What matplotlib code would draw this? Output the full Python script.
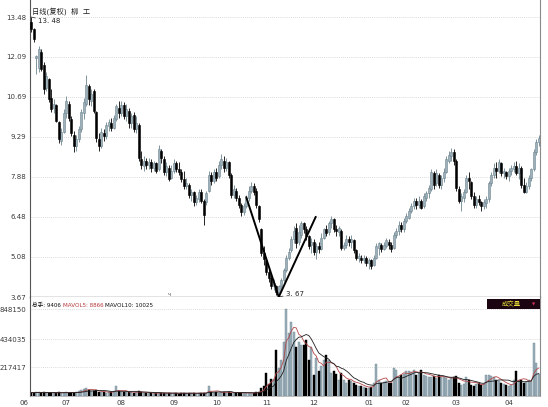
import matplotlib
matplotlib.use("Agg")
import matplotlib.pyplot as plt
import matplotlib.ticker as ticker
import matplotlib.transforms as mtransforms
from matplotlib.patches import Rectangle
import numpy as np
import pandas as pd

plt.rcParams['font.family'] = ['DejaVu Sans', 'Noto Sans CJK SC']

# daily candles, June -> April (forward-adjusted)
open_ = [
    13.30, 13.05, 12.05, 11.70, 12.25, 11.80, 11.00, 11.30, 10.65, 10.30,
    10.40, 9.80, 9.15, 9.45, 10.10, 10.45, 9.90, 9.35, 8.95, 9.20,
    9.55, 10.10, 10.45, 11.05, 10.55, 10.90, 10.15, 9.20, 8.95, 9.40,
    9.30, 9.65, 9.75, 9.60, 9.90, 10.30, 10.10, 10.40, 10.00, 10.20,
    9.75, 10.05, 9.55, 9.70, 8.50, 8.25, 8.45, 8.30, 8.40, 8.20,
    8.35, 8.15, 8.80, 8.50, 8.05, 8.20, 7.85, 8.10, 8.35, 8.15,
    8.05, 7.80, 7.55, 7.60, 7.25, 7.35, 7.00, 7.10, 7.35, 7.05,
    7.00, 7.40, 7.95, 7.75, 8.05, 7.90, 8.30, 8.45, 8.20, 8.40,
    7.95, 7.25, 7.40, 7.15, 6.90, 6.65, 6.85, 7.15, 7.40, 7.55,
    7.40, 6.85, 6.05, 5.20, 4.95, 4.55, 4.35, 4.05, 4.05, 3.85,
    4.05, 4.25, 4.60, 5.05, 5.30, 5.70, 6.10, 5.60, 5.85, 6.25,
    6.05, 5.80, 5.50, 5.60, 5.25, 5.45, 5.35, 5.75, 6.05, 5.95,
    6.25, 6.40, 6.05, 5.95, 6.00, 5.40, 5.50, 5.70, 5.60, 5.65,
    5.30, 5.05, 5.05, 4.95, 5.05, 4.85, 4.95, 4.80, 5.05, 5.40,
    5.50, 5.35, 5.45, 5.60, 5.50, 5.40, 5.85, 6.00, 6.20, 6.05,
    6.35, 6.45, 6.70, 6.85, 7.05, 6.90, 7.05, 6.85, 7.15, 7.30,
    7.45, 8.00, 7.65, 7.95, 7.60, 7.85, 8.05, 8.45, 8.60, 8.75,
    8.45, 7.45, 7.05, 7.15, 7.35, 7.85, 7.70, 7.20, 6.90, 7.10,
    7.00, 6.85, 6.95, 7.10, 7.65, 7.95, 8.20, 8.10, 8.35, 8.00,
    8.05, 7.90, 8.10, 8.15, 8.25, 8.00, 8.20, 7.60, 7.35, 7.55,
    7.85, 8.15, 8.75, 9.10,
]
close = [
    13.05, 12.70, 12.10, 12.35, 11.65, 10.95, 11.40, 10.60, 10.25, 10.45,
    9.85, 9.20, 9.45, 10.10, 10.55, 9.95, 9.40, 8.95, 9.20, 9.55,
    10.15, 10.50, 11.10, 10.60, 10.80, 10.20, 9.25, 8.95, 9.45, 9.30,
    9.70, 9.80, 9.60, 9.95, 10.35, 10.10, 10.40, 10.00, 10.25, 9.75,
    10.00, 9.55, 9.75, 8.55, 8.30, 8.45, 8.30, 8.40, 8.20, 8.35,
    8.10, 8.85, 8.55, 8.05, 8.25, 7.80, 8.10, 8.35, 8.15, 8.05,
    7.80, 7.55, 7.65, 7.25, 7.35, 7.00, 7.15, 7.35, 7.05, 6.55,
    7.30, 7.95, 7.75, 8.05, 7.85, 8.30, 8.50, 8.20, 8.40, 7.95,
    7.25, 7.45, 7.15, 6.90, 6.65, 6.85, 7.15, 7.40, 7.55, 7.35,
    6.90, 6.40, 5.20, 5.00, 4.55, 4.35, 4.05, 4.15, 3.85, 4.05,
    4.25, 4.60, 5.05, 5.25, 5.70, 6.00, 5.55, 5.95, 6.25, 6.05,
    5.80, 5.45, 5.60, 5.25, 5.45, 5.35, 5.75, 6.05, 5.90, 6.25,
    6.40, 6.05, 6.00, 6.10, 5.40, 5.50, 5.70, 5.60, 5.70, 5.30,
    5.05, 5.10, 4.95, 5.05, 4.85, 4.95, 4.75, 5.05, 5.45, 5.55,
    5.35, 5.50, 5.65, 5.50, 5.35, 5.85, 6.00, 6.20, 6.05, 6.35,
    6.50, 6.70, 6.85, 7.05, 6.90, 7.05, 6.80, 7.20, 7.30, 7.50,
    8.05, 7.60, 8.00, 7.60, 7.85, 8.05, 8.50, 8.65, 8.75, 8.45,
    7.50, 7.05, 7.20, 7.35, 7.85, 7.75, 7.20, 6.90, 7.10, 7.00,
    6.85, 7.00, 7.10, 7.65, 7.95, 8.20, 8.10, 8.40, 8.00, 8.10,
    7.90, 8.10, 8.20, 8.25, 8.00, 8.20, 7.60, 7.35, 7.55, 7.85,
    8.15, 8.75, 9.10, 9.25,
]
high = [
    13.48, 13.10, 12.15, 12.45, 12.35, 11.90, 11.55, 11.35, 10.95, 10.60,
    10.45, 9.85, 9.60, 10.25, 10.70, 10.55, 10.00, 9.50, 9.35, 9.65,
    10.25, 10.65, 11.45, 11.15, 10.95, 10.95, 10.20, 9.40, 9.60, 9.55,
    9.80, 9.90, 9.95, 10.05, 10.45, 10.55, 10.55, 10.50, 10.45, 10.30,
    10.10, 10.15, 10.00, 9.75, 8.80, 8.60, 8.55, 8.55, 8.50, 8.45,
    8.40, 9.00, 8.85, 8.60, 8.40, 8.30, 8.30, 8.50, 8.45, 8.40,
    8.15, 8.10, 7.85, 7.65, 7.45, 7.40, 7.25, 7.45, 7.45, 7.10,
    7.40, 8.10, 8.05, 8.15, 8.20, 8.45, 8.68, 8.60, 8.55, 8.45,
    8.00, 7.60, 7.50, 7.25, 6.95, 6.95, 7.25, 7.55, 7.70, 7.65,
    7.50, 6.90, 6.10, 5.45, 5.00, 4.65, 4.40, 4.30, 4.10, 4.10,
    4.35, 4.70, 5.15, 5.40, 5.80, 6.15, 6.25, 6.20, 6.35, 6.30,
    6.15, 5.85, 5.75, 5.70, 5.55, 5.60, 5.90, 6.10, 6.20, 6.35,
    6.50, 6.45, 6.20, 6.15, 6.05, 5.60, 5.85, 5.80, 5.85, 5.70,
    5.35, 5.20, 5.15, 5.15, 5.10, 5.05, 5.00, 5.15, 5.55, 5.60,
    5.55, 5.60, 5.75, 5.70, 5.60, 5.95, 6.10, 6.35, 6.30, 6.45,
    6.60, 6.80, 6.95, 7.15, 7.15, 7.20, 7.10, 7.30, 7.40, 7.60,
    8.15, 8.10, 8.15, 8.00, 7.95, 8.20, 8.60, 8.80, 8.90, 8.85,
    8.50, 7.55, 7.30, 7.45, 7.95, 8.05, 7.75, 7.35, 7.20, 7.25,
    7.05, 7.10, 7.20, 7.75, 8.05, 8.35, 8.40, 8.50, 8.40, 8.20,
    8.10, 8.20, 8.30, 8.40, 8.45, 8.35, 8.25, 7.85, 7.70, 7.95,
    8.20, 8.85, 9.20, 9.35,
]
low = [
    12.95, 12.60, 11.50, 11.55, 11.60, 10.80, 10.90, 10.50, 10.15, 10.10,
    9.80, 9.05, 9.00, 9.40, 9.95, 9.85, 9.30, 8.75, 8.80, 9.10,
    9.45, 9.90, 10.35, 10.40, 10.35, 10.10, 9.10, 8.80, 8.90, 9.15,
    9.20, 9.50, 9.50, 9.55, 9.85, 9.95, 10.00, 9.90, 9.85, 9.60,
    9.60, 9.45, 9.40, 8.45, 8.15, 8.10, 8.15, 8.15, 8.05, 8.10,
    8.00, 8.10, 8.35, 7.95, 7.90, 7.75, 7.80, 8.00, 8.05, 7.95,
    7.70, 7.45, 7.45, 7.15, 7.05, 6.85, 6.90, 7.00, 6.95, 6.20,
    6.90, 7.35, 7.60, 7.65, 7.75, 7.85, 8.15, 8.05, 8.10, 7.85,
    7.15, 7.15, 7.05, 6.80, 6.50, 6.55, 6.80, 7.05, 7.30, 7.25,
    6.80, 6.30, 5.10, 4.80, 4.45, 4.20, 3.95, 3.90, 3.75, 3.67,
    3.90, 4.20, 4.55, 4.95, 5.25, 5.55, 5.40, 5.50, 5.75, 5.90,
    5.65, 5.35, 5.20, 5.15, 5.00, 5.20, 5.30, 5.70, 5.80, 5.85,
    6.10, 5.95, 5.80, 5.80, 5.30, 5.30, 5.40, 5.45, 5.40, 5.20,
    4.95, 4.90, 4.85, 4.85, 4.75, 4.65, 4.65, 4.75, 5.00, 5.15,
    5.25, 5.30, 5.40, 5.35, 5.25, 5.35, 5.75, 5.85, 5.95, 5.95,
    6.25, 6.40, 6.60, 6.75, 6.75, 6.80, 6.75, 6.80, 7.05, 7.15,
    7.40, 7.45, 7.55, 7.50, 7.45, 7.70, 8.00, 8.35, 8.45, 8.30,
    7.40, 6.95, 6.70, 7.00, 7.30, 7.45, 7.10, 6.80, 6.80, 6.90,
    6.70, 6.75, 6.80, 7.00, 7.55, 7.85, 7.85, 8.00, 7.90, 7.85,
    7.80, 7.75, 7.95, 8.05, 7.95, 7.80, 7.50, 7.30, 7.30, 7.45,
    7.75, 8.10, 8.65, 8.95,
]
volume = [
    26000, 24000, 30000, 28000, 25000, 27000, 22000, 26000, 24000, 23000,
    25000, 28000, 22000, 26000, 30000, 24000, 25000, 22000, 27000, 35000,
    45000, 52000, 60000, 48000, 40000, 36000, 42000, 30000, 28000, 32000,
    26000, 30000, 28000, 36000, 75000, 34000, 30000, 28000, 32000, 27000,
    30000, 26000, 28000, 38000, 30000, 26000, 22000, 20000, 24000, 21000,
    19000, 26000, 22000, 20000, 23000, 19000, 21000, 24000, 20000, 18000,
    22000, 21000, 19000, 23000, 20000, 22000, 18000, 21000, 24000, 20000,
    26000, 78000, 30000, 26000, 28000, 24000, 32000, 28000, 26000, 30000,
    25000, 24000, 22000, 26000, 23000, 21000, 24000, 22000, 25000, 23000,
    27000, 30000, 60000, 75000, 172500, 90000, 127500, 127500, 348900, 210000,
    271600, 410800, 848150, 516900, 668700, 530700, 372100, 410800, 387600, 387600,
    426300, 271600, 372100, 157500, 287000, 187500, 225000, 271600, 310200, 271600,
    172500, 187500, 165000, 120000, 172500, 120000, 97500, 120000, 112500, 100000,
    82500, 75000, 75000, 70000, 60000, 60000, 65000, 97500, 240600, 120000,
    97500, 105000, 112500, 100000, 97500, 210000, 195000, 142500, 157500, 165000,
    187500, 187500, 180000, 195000, 157500, 170000, 195000, 157500, 150000, 142500,
    142500, 150000, 135000, 157500, 142500, 142500, 135000, 120000, 135000, 142500,
    150000, 97500, 82500, 90000, 142500, 120000, 82500, 75000, 90000, 97500,
    82500, 90000, 157500, 157500, 150000, 142500, 120000, 112500, 97500, 90000,
    82500, 75000, 80000, 120000, 187500, 120000, 120000, 97500, 105000, 120000,
    112500, 403100, 248400, 165000,
]

price_ticks = [3.67, 5.08, 6.48, 7.88, 9.29, 10.69, 12.09, 13.48]
vol_ticks = [217417, 434035, 848150]
month_labels = ["06", "07", "08", "09", "10", "11", "12", "01", "02", "03", "04"]
month_pos = [-3, 14, 36, 57, 74, 94, 113, 135, 150, 170, 191]
trend_lines = [((86, 7.17), (99, 3.67)), ((99, 3.67), (113.8, 6.48))]

UP_FACE = "#9db1bb"
UP_EDGE = "#6c8490"
DOWN = "#000000"
LABEL_C = "#3a3a3a"
GRID_C = "#cfcfcf"

o = np.array(open_)
c = np.array(close)
h = np.array(high)
l = np.array(low)
v = np.array(volume)
x = np.arange(len(c))
up = c >= o

fig = plt.figure(figsize=(5.48, 4.07), dpi=100)
W, H = 548.0, 407.0
ax = fig.add_axes([30 / W, (H - 297) / H, 510 / W, 297 / H])
axv = fig.add_axes([30 / W, (H - 396) / H, 510 / W, 99 / H], sharex=ax)

#######################################################
# Price panel
#######################################################
ax.vlines(x[up], l[up], h[up], color=UP_EDGE, linewidth=0.6, zorder=2)
ax.vlines(x[~up], l[~up], h[~up], color=DOWN, linewidth=0.6, zorder=2)
body = np.maximum(np.abs(c - o), 0.02)
ax.bar(x[up], body[up], bottom=np.minimum(o, c)[up], width=0.7,
       color=UP_FACE, edgecolor=UP_EDGE, linewidth=0.4, zorder=3)
ax.bar(x[~up], body[~up], bottom=np.minimum(o, c)[~up], width=0.7,
       color=DOWN, edgecolor=DOWN, linewidth=0.4, zorder=3)

for (x0, y0), (x1, y1) in trend_lines:
    ax.plot([x0, x1], [y0, y1], color="black", linewidth=1.4,
            solid_capstyle="round", zorder=5)

ax.set_xlim(-0.5, len(c) - 0.5)
ax.set_ylim(3.67, 3.67 + 297 * 0.03504)
ax.yaxis.set_major_locator(ticker.FixedLocator(price_ticks))
ax.yaxis.set_major_formatter(ticker.FormatStrFormatter("%.2f"))
ax.tick_params(axis="y", length=0, pad=2.5, labelsize=5, labelcolor=LABEL_C)
ax.tick_params(axis="x", length=0, labelbottom=False)
ax.grid(axis="y", color=GRID_C, linestyle=(0, (1, 1.5)), linewidth=0.6)
ax.set_axisbelow(True)
ax.spines["top"].set_visible(False)
ax.spines["left"].set_color("#555555")
ax.spines["left"].set_linewidth(0.8)
ax.spines["right"].set_color("#8a8a8a")
ax.spines["right"].set_linewidth(0.8)
ax.spines["bottom"].set_color("#222222")
ax.spines["bottom"].set_linewidth(0.9)

ax.text(0.004, 0.962, "日线(复权)  柳  工", transform=ax.transAxes,
        fontsize=5.2, color="#222222", va="center", ha="left")

imax = int(np.argmax(h))
ax.annotate(f"{h[imax]:.2f}".replace(".", ". "), xy=(x[imax], h[imax]),
            xytext=(5, -3), textcoords="offset points", fontsize=5,
            color="#222222", va="center", ha="left",
            arrowprops=dict(arrowstyle="-", color="#222222", lw=0.5,
                            shrinkA=0, shrinkB=0))
imin = int(np.argmin(l))
ax.annotate(f"{l[imin]:.2f}".replace(".", ". "), xy=(x[imin], l[imin]),
            xytext=(5, 2.5), textcoords="offset points", fontsize=5,
            color="#222222", va="center", ha="left",
            arrowprops=dict(arrowstyle="-", color="#222222", lw=0.5,
                            shrinkA=0, shrinkB=0))
ax.text(55, 3.67, "ч", fontsize=3.5, color="#444444", ha="center",
        va="bottom")

#######################################################
# Volume panel
#######################################################
vol_anchor_v = [0, 217417, 434035, 848150, 1013800]
vol_anchor_px = [0, 29, 57, 87, 99]


def vol_fwd(val):
    return np.interp(val, vol_anchor_v, vol_anchor_px)


def vol_inv(px):
    return np.interp(px, vol_anchor_px, vol_anchor_v)


axv.set_yscale("function", functions=(vol_fwd, vol_inv))
axv.bar(x[up], v[up], width=0.72, color=UP_FACE, edgecolor=UP_EDGE,
        linewidth=0.3, zorder=2)
axv.bar(x[~up], v[~up], width=0.72, color=DOWN, edgecolor=DOWN,
        linewidth=0.3, zorder=2)
ma5 = pd.Series(v).rolling(5, min_periods=1).mean()
ma10 = pd.Series(v).rolling(10, min_periods=1).mean()
axv.plot(x, ma5, color="#b5474a", linewidth=0.6, zorder=4)
axv.plot(x, ma10, color="#1e1e1e", linewidth=0.6, zorder=4)

axv.set_ylim(0, 1013800)
axv.yaxis.set_major_locator(ticker.FixedLocator(vol_ticks))
axv.yaxis.set_major_formatter(ticker.FormatStrFormatter("%d"))
axv.yaxis.set_minor_locator(ticker.NullLocator())
axv.tick_params(axis="y", length=0, pad=2.5, labelsize=5, labelcolor=LABEL_C)
axv.tick_params(axis="x", length=0, labelbottom=False)
axv.grid(axis="y", color=GRID_C, linestyle=(0, (1, 1.5)), linewidth=0.6)
axv.set_axisbelow(True)
axv.spines["top"].set_visible(False)
axv.spines["left"].set_color("#555555")
axv.spines["left"].set_linewidth(0.8)
axv.spines["right"].set_color("#8a8a8a")
axv.spines["right"].set_linewidth(0.8)
axv.spines["bottom"].set_color("#b0b0b0")
axv.spines["bottom"].set_linewidth(0.6)

trans = mtransforms.blended_transform_factory(axv.transData, axv.transAxes)
for pos, lab in zip(month_pos, month_labels):
    axv.text(pos, -0.075, lab, transform=trans, fontsize=5, color=LABEL_C,
             ha="center", va="center", clip_on=False)

t1 = axv.text(0.004, 0.915, "总手: 9406 ", transform=axv.transAxes,
              fontsize=4.1, color="#111111", va="center", ha="left")
t2 = axv.annotate("MAVOL5: 8866 ", xy=(1, 0.5), xycoords=t1,
                  fontsize=4.1, color="#b5373a", va="center", ha="left")
axv.annotate("MAVOL10: 10025", xy=(1, 0.5), xycoords=t2,
             fontsize=4.1, color="#111111", va="center", ha="left")

axv.add_patch(Rectangle((0.896, 0.875), 0.104, 0.105, transform=axv.transAxes,
                        facecolor="#1c0510", edgecolor="none", zorder=6,
                        clip_on=False))
axv.text(0.943, 0.928, "成交量", transform=axv.transAxes, fontsize=4.6,
         color="#e6dc3a", ha="center", va="center", zorder=7)
axv.text(0.987, 0.928, "▼", transform=axv.transAxes, fontsize=3,
         color="#d8325a", ha="center", va="center", zorder=7)

fig.savefig("out.png", dpi=100)
